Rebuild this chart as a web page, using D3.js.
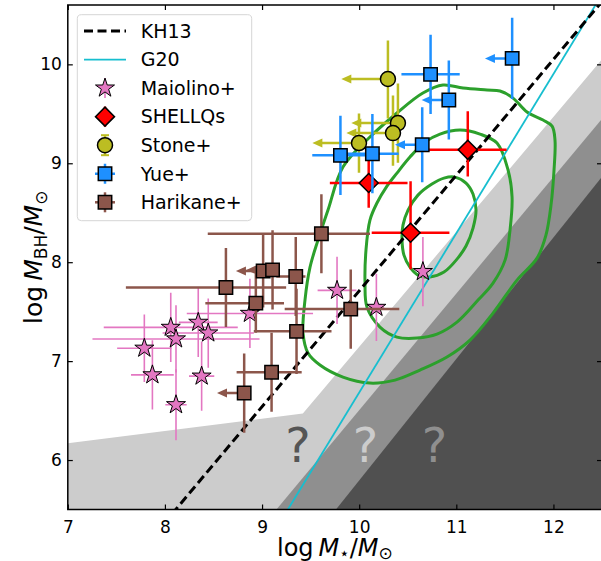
<!DOCTYPE html>
<html>
<head>
<meta charset="utf-8">
<script src="https://cdn.jsdelivr.net/npm/d3@7"></script>
<style>
  body { margin: 0; background: #fff; }
  svg { display: block; font-family: "DejaVu Sans", sans-serif; }
</style>
</head>
<body>
<svg id="chart" width="601" height="561"></svg>
<script>
// ---- axes ----
const xDomain = [7, 12.5];
const yDomain = [5.5, 10.6];
const xTicks = [7, 8, 9, 10, 11, 12];
const yTicks = [6, 7, 8, 9, 10];

// ---- local relations: log MBH = norm + slope * (log M* - pivot) ----
const kh13 = { norm: 8.88, slope: 1.17, pivot: 11.0 };
const g20 = { norm: 7.45, slope: 1.61, pivot: 10.477 };

// ---- unconstrained regions (log M*, log MBH) ----
const lightRegion = [[7, 6.17], [9.42, 6.47], [12.5, 10.05], [12.5, 5.5], [7, 5.5]];
const mediumRegion = [[9.148, 5.5], [12.5, 9.45], [12.5, 5.5]];
const darkRegion = [[9.761, 5.5], [12.5, 8.864], [12.5, 5.5]];
const questionMarks = [[9.37, 5.98], [10.065, 5.98], [10.775, 5.98]];

// ---- intrinsic distribution contours ----
const contourInner = [
  [10.986, 8.860], [11.100, 8.800], [11.172, 8.689], [11.203, 8.527], [11.172, 8.345],
  [11.100, 8.163], [11.007, 8.031], [10.873, 7.900], [10.729, 7.850], [10.605, 7.870],
  [10.523, 7.950], [10.461, 8.072], [10.441, 8.223], [10.451, 8.375], [10.503, 8.527],
  [10.605, 8.678], [10.749, 8.790], [10.873, 8.850]
];
const contourMiddle = [
  [11.038, 9.336], [11.244, 9.295], [11.419, 9.204], [11.533, 8.931], [11.574, 8.658],
  [11.553, 8.325], [11.502, 8.021], [11.378, 7.789], [11.224, 7.617], [11.007, 7.394],
  [10.801, 7.273], [10.595, 7.233], [10.389, 7.243], [10.214, 7.344], [10.080, 7.546],
  [10.060, 7.789], [10.070, 8.122], [10.111, 8.426], [10.183, 8.598], [10.286, 8.769],
  [10.389, 8.901], [10.523, 9.063], [10.677, 9.214], [10.832, 9.295]
];
const contourOuter = [
  [10.863, 9.791], [11.069, 9.760], [11.316, 9.740], [11.450, 9.730], [11.584, 9.659],
  [11.728, 9.518], [11.893, 9.437], [11.986, 9.376], [12.016, 9.235], [12.006, 8.931],
  [11.975, 8.577], [11.923, 8.274], [11.831, 8.041], [11.625, 7.819], [11.378, 7.485],
  [11.141, 7.212], [10.904, 7.041], [10.626, 6.909], [10.369, 6.808], [10.111, 6.778],
  [9.833, 6.838], [9.596, 6.960], [9.473, 7.081], [9.422, 7.283], [9.442, 7.617],
  [9.494, 7.950], [9.576, 8.223], [9.679, 8.527], [9.833, 8.962], [10.111, 9.265],
  [10.389, 9.508], [10.656, 9.710]
];

// ---- samples: [logM*, logMBH, xerrLow, xerrHigh, yerrLow, yerrHigh, upperLimitArrow] ----
const maiolino = [
  [9.772, 7.715, 0.20, 0.20, 0.34, 0.34, 0],
  [10.177, 7.543, 0.08, 0.08, 0.34, 0.34, 0],
  [10.656, 7.905, 0.05, 0.05, 0.35, 0.35, 0],
  [8.875, 7.482, 0.65, 0.65, 0.35, 0.35, 0],
  [8.343, 7.392, 0.20, 0.20, 0.35, 0.35, 0],
  [8.446, 7.284, 0.47, 0.47, 0.35, 0.35, 0],
  [8.060, 7.341, 0.69, 0.69, 0.35, 0.35, 0],
  [8.114, 7.224, 0.86, 0.86, 0.34, 0.34, 0],
  [7.788, 7.130, 0.28, 0.28, 0.34, 0.34, 0],
  [7.871, 6.861, 0.22, 0.22, 0.35, 0.35, 0],
  [8.378, 6.848, 0.13, 0.13, 0.35, 0.35, 0],
  [8.114, 6.559, 0.11, 0.11, 0.36, 0.36, 0]
];
const shellqs = [
  [11.118, 9.136, 0.40, 0.40, 0.27, 0.39, 0],
  [10.098, 8.800, 0.40, 0.40, 0.25, 0.25, 0],
  [10.529, 8.298, 0.40, 0.40, 0.37, 0.52, 0]
];
const stone = [
  [10.296, 9.852, 0, 0, 0.40, 0.39, 0.48],
  [10.399, 9.406, 0, 0, 0.40, 0.40, 0.48],
  [10.348, 9.305, 0, 0, 0.33, 0.38, 0.48],
  [9.998, 9.204, 0, 0, 0.30, 0.30, 0.48]
];
const yue = [
  [11.575, 10.060, 0, 0, 0.41, 0.41, 0.28],
  [10.735, 9.899, 0.30, 0.30, 0.40, 0.40, 0],
  [10.923, 9.640, 0, 0, 0.40, 0.40, 0.28],
  [10.649, 9.187, 0, 0, 0.38, 0.38, 0.28],
  [10.136, 9.097, 0.27, 0.27, 0.40, 0.40, 0],
  [9.807, 9.080, 0.29, 0.29, 0.40, 0.40, 0]
];
const harikane = [
  [9.611, 8.288, 1.17, 0.50, 0.40, 0.40, 0],
  [9.011, 7.911, 0, 0, 0.37, 0.37, 0.28],
  [9.108, 7.922, 0, 0, 0.40, 0.40, 0.27],
  [9.347, 7.855, 0.20, 0.10, 0.40, 0.40, 0],
  [8.628, 7.744, 1.03, 0.62, 0.40, 0.40, 0],
  [8.936, 7.586, 0.52, 0.29, 0.30, 0.30, 0],
  [9.355, 7.301, 0.44, 0.36, 0.43, 0.43, 0],
  [9.098, 6.888, 0.36, 0.31, 0.40, 0.40, 0],
  [8.816, 6.677, 0, 0, 0.40, 0.40, 0.28],
  [9.913, 7.526, 0.68, 0.50, 0.40, 0.40, 0]
];

const legendLabels = ["KH13", "G20", "Maiolino+", "SHELLQs", "Stone+", "Yue+", "Harikane+"];

// ---- layout ----
const svg = d3.select("#chart");
const margin = { left: 67.8, right: 602, top: 5, bottom: 509.5 };
const x = d3.scaleLinear().domain(xDomain).range([margin.left, margin.right]);
const y = d3.scaleLinear().domain(yDomain).range([margin.bottom, margin.top]);

svg.append("defs").append("clipPath").attr("id", "plotclip")
  .append("rect")
  .attr("x", margin.left).attr("y", margin.top)
  .attr("width", margin.right - margin.left).attr("height", margin.bottom - margin.top);

const plot = svg.append("g").attr("clip-path", "url(#plotclip)");
const line = d3.line().x(d => x(d[0])).y(d => y(d[1]));

// shaded regions
plot.append("path").attr("d", line(lightRegion) + "Z").attr("fill", "#cccccc");
plot.append("path").attr("d", line(mediumRegion) + "Z").attr("fill", "#8f8f8f");
plot.append("path").attr("d", line(darkRegion) + "Z").attr("fill", "#505050");

const qColors = ["#555555", "#cccccc", "#8f8f8f"];
plot.selectAll("text.q").data(questionMarks).join("text")
  .attr("class", "q")
  .attr("x", d => x(d[0])).attr("y", d => y(d[1]))
  .attr("text-anchor", "middle")
  .attr("font-size", 48)
  .attr("fill", (d, i) => qColors[i])
  .text("?");

// contours
const closed = d3.line().x(d => x(d[0])).y(d => y(d[1])).curve(d3.curveCatmullRomClosed.alpha(0.5));
[contourOuter, contourMiddle, contourInner].forEach(c => {
  plot.append("path").attr("d", closed(c))
    .attr("fill", "none").attr("stroke", "#2ca02c").attr("stroke-width", 3);
});

// relations
function relation(r) {
  return xDomain.map(v => [v, r.norm + r.slope * (v - r.pivot)]);
}
plot.append("path").attr("d", line(relation(g20)))
  .attr("fill", "none").attr("stroke", "#17becf").attr("stroke-width", 1.8);
plot.append("path").attr("d", line(relation(kh13)))
  .attr("fill", "none").attr("stroke", "#000").attr("stroke-width", 3)
  .attr("stroke-dasharray", "9,4.5");

// markers
function starPath(R) {
  const r = R * 0.381966;
  const pts = [];
  for (let i = 0; i < 10; i++) {
    const a = -Math.PI / 2 + i * Math.PI / 5;
    const rad = i % 2 === 0 ? R : r;
    pts.push([rad * Math.cos(a), rad * Math.sin(a)]);
  }
  return "M" + pts.map(p => p.join(",")).join("L") + "Z";
}
const markerShapes = {
  star: starPath(10),
  diamond: "M0,-9.5L9.5,0L0,9.5L-9.5,0Z",
  circle: d3.symbol(d3.symbolCircle, Math.PI * 7.5 * 7.5)(),
  square: "M-6.7,-6.7H6.7V6.7H-6.7Z"
};

function drawSample(data, color, shape, barWidth) {
  const g = plot.append("g");
  data.forEach(d => {
    const [mx, my, xl, xh, yl, yh, arrow] = d;
    const px = x(mx), py = y(my);
    if (xl > 0 || xh > 0) {
      g.append("line").attr("x1", x(mx - xl)).attr("x2", x(mx + xh))
        .attr("y1", py).attr("y2", py)
        .attr("stroke", color).attr("stroke-width", barWidth);
    }
    g.append("line").attr("x1", px).attr("x2", px)
      .attr("y1", y(my - yl)).attr("y2", y(my + yh))
      .attr("stroke", color).attr("stroke-width", barWidth);
    if (arrow > 0) {
      const ex = x(mx - arrow);
      g.append("line").attr("x1", px).attr("x2", ex + 6).attr("y1", py).attr("y2", py)
        .attr("stroke", color).attr("stroke-width", barWidth);
      g.append("path").attr("d", `M${ex},${py}L${ex + 10},${py - 4.5}L${ex + 10},${py + 4.5}Z`)
        .attr("fill", color);
    }
  });
  data.forEach(d => {
    g.append("path").attr("d", markerShapes[shape])
      .attr("transform", `translate(${x(d[0])},${y(d[1])})`)
      .attr("fill", color).attr("stroke", "#000").attr("stroke-width", shape === "star" ? 1 : 1.5);
  });
}

drawSample(maiolino, "#e377c2", "star", 1.6);
drawSample(shellqs, "#ff0000", "diamond", 2.5);
drawSample(stone, "#bcbd22", "circle", 2.5);
drawSample(yue, "#1e90ff", "square", 2.5);
drawSample(harikane, "#8c564b", "square", 2.5);

// frame and ticks
svg.append("rect")
  .attr("x", margin.left).attr("y", margin.top)
  .attr("width", margin.right - margin.left).attr("height", margin.bottom - margin.top)
  .attr("fill", "none").attr("stroke", "#000").attr("stroke-width", 1.5);

const axisB = d3.axisBottom(x).tickValues(xTicks).tickSize(-5).tickSizeOuter(0).tickPadding(11)
  .tickFormat(d3.format("d"));
const axisT = d3.axisTop(x).tickValues(xTicks).tickSize(-5).tickSizeOuter(0).tickFormat("");
const axisL = d3.axisLeft(y).tickValues(yTicks).tickSize(-5).tickSizeOuter(0).tickPadding(6)
  .tickFormat(d3.format("d"));
const axisR = d3.axisRight(y).tickValues(yTicks).tickSize(-5).tickSizeOuter(0).tickFormat("");

function styleAxis(g) {
  g.select(".domain").remove();
  g.selectAll(".tick line").attr("stroke", "#000").attr("stroke-width", 1.2);
  g.selectAll(".tick text").attr("font-size", 17).attr("fill", "#000")
    .attr("font-family", "DejaVu Sans, sans-serif");
}
svg.append("g").attr("transform", `translate(0,${margin.bottom})`).call(axisB).call(styleAxis);
svg.append("g").attr("transform", `translate(0,${margin.top})`).call(axisT).call(styleAxis);
svg.append("g").attr("transform", `translate(${margin.left},0)`).call(axisL).call(styleAxis);
svg.append("g").attr("transform", `translate(${margin.right},0)`).call(axisR).call(styleAxis);

// axis titles
const xt = svg.append("text").attr("x", (margin.left + margin.right) / 2).attr("y", 555.5)
  .attr("text-anchor", "middle").attr("font-size", 24).attr("fill", "#000");
xt.append("tspan").text("log\u2009");
xt.append("tspan").attr("font-style", "italic").text("M");
xt.append("tspan").attr("font-size", 17).attr("dy", 3).text("\u22c6");
xt.append("tspan").attr("dy", -3).text("/");
xt.append("tspan").attr("font-style", "italic").text("M");
xt.append("tspan").attr("font-size", 17).attr("dy", 3).text("\u2299");

const yt = svg.append("text")
  .attr("transform", `translate(42,${(margin.top + margin.bottom) / 2}) rotate(-90)`)
  .attr("text-anchor", "middle").attr("font-size", 25).attr("fill", "#000");
yt.append("tspan").text("log\u2009");
yt.append("tspan").attr("font-style", "italic").text("M");
yt.append("tspan").attr("font-size", 17).attr("dy", 5).text("BH");
yt.append("tspan").attr("dy", -5).text("/");
yt.append("tspan").attr("font-style", "italic").text("M");
yt.append("tspan").attr("font-size", 17).attr("dy", 5).text("\u2299");

// legend
const lg = svg.append("g");
lg.append("rect").attr("x", 77.3).attr("y", 14.7).attr("width", 174.4).attr("height", 206)
  .attr("rx", 4).attr("fill", "#fff").attr("fill-opacity", 0.8)
  .attr("stroke", "#d6d6d6").attr("stroke-width", 1);
const rowY = i => 31 + i * 28.55;
const mX = 105;
lg.append("line").attr("x1", 84).attr("x2", 126).attr("y1", rowY(0)).attr("y2", rowY(0))
  .attr("stroke", "#000").attr("stroke-width", 3).attr("stroke-dasharray", "9,4.5");
lg.append("line").attr("x1", 84).attr("x2", 126).attr("y1", rowY(1)).attr("y2", rowY(1))
  .attr("stroke", "#17becf").attr("stroke-width", 1.8);
const legendMarkers = [
  [2, "#e377c2", "star", 1.6, false],
  [3, "#ff0000", "diamond", 2.5, false],
  [4, "#bcbd22", "circle", 2.5, false],
  [5, "#1e90ff", "square", 2.5, true],
  [6, "#8c564b", "square", 2.5, true]
];
legendMarkers.forEach(([i, color, shape, bw, hbar]) => {
  const cy = rowY(i);
  lg.append("line").attr("x1", mX).attr("x2", mX).attr("y1", cy - 10).attr("y2", cy + 10)
    .attr("stroke", color).attr("stroke-width", bw);
  if (hbar) {
    lg.append("line").attr("x1", mX - 10).attr("x2", mX + 10).attr("y1", cy).attr("y2", cy)
      .attr("stroke", color).attr("stroke-width", bw);
  }
  if (shape === "circle") {
    [-10, 10].forEach(o => lg.append("line").attr("x1", mX - 4).attr("x2", mX + 4)
      .attr("y1", cy + o).attr("y2", cy + o).attr("stroke", color).attr("stroke-width", 2));
  }
  lg.append("path").attr("d", markerShapes[shape]).attr("transform", `translate(${mX},${cy})`)
    .attr("fill", color).attr("stroke", "#000").attr("stroke-width", shape === "star" ? 1 : 1.5);
});
lg.selectAll("text.lab").data(legendLabels).join("text").attr("class", "lab")
  .attr("x", 140.7).attr("y", (d, i) => rowY(i)).attr("dy", "0.36em")
  .attr("font-size", 19).attr("fill", "#000").text(d => d);
</script>
</body>
</html>
